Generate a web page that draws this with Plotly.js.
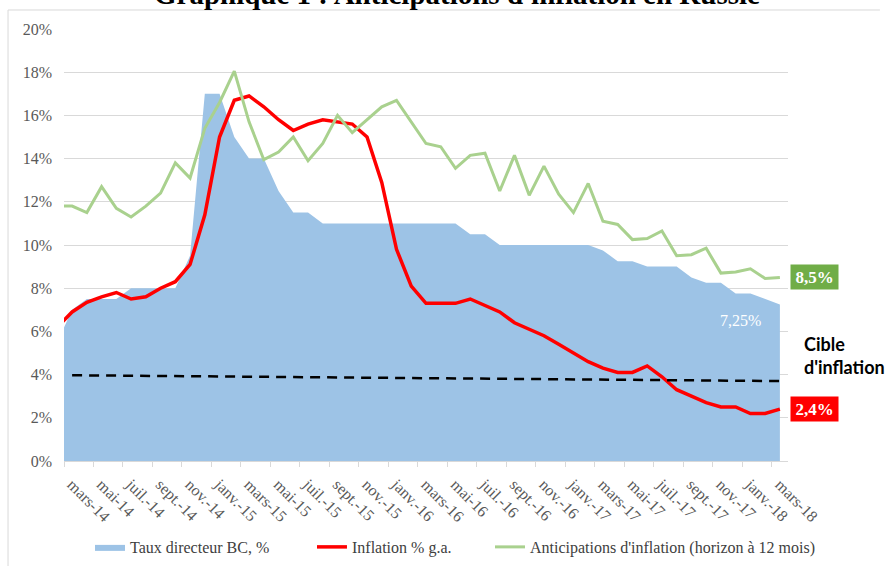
<!DOCTYPE html>
<html>
<head>
<meta charset="utf-8">
<script src="https://cdn.plot.ly/plotly-3.0.1.min.js"></script>
<style>html,body{margin:0;padding:0;background:#fff;}#chart{width:885px;height:566px;}</style>
</head>
<body>
<div id="chart"></div>
<script>
// Monthly categories (Feb 2014 – Mar 2018)
const months = [
  'févr.-14','mars-14','avr.-14','mai-14','juin-14','juil.-14','août-14','sept.-14','oct.-14','nov.-14','déc.-14',
  'janv.-15','févr.-15','mars-15','avr.-15','mai-15','juin-15','juil.-15','août-15','sept.-15','oct.-15','nov.-15','déc.-15',
  'janv.-16','févr.-16','mars-16','avr.-16','mai-16','juin-16','juil.-16','août-16','sept.-16','oct.-16','nov.-16','déc.-16',
  'janv.-17','févr.-17','mars-17','avr.-17','mai-17','juin-17','juil.-17','août-17','sept.-17','oct.-17','nov.-17','déc.-17',
  'janv.-18','févr.-18','mars-18'
];
// Taux directeur BC, %
const tauxDirecteur = [
  5.5, 7.0, 7.5, 7.5, 7.5, 8.0, 8.0, 8.0, 8.0, 9.5, 17.0,
  17.0, 15.0, 14.0, 14.0, 12.5, 11.5, 11.5, 11.0, 11.0, 11.0, 11.0, 11.0,
  11.0, 11.0, 11.0, 11.0, 11.0, 10.5, 10.5, 10.0, 10.0, 10.0, 10.0, 10.0,
  10.0, 10.0, 9.75, 9.25, 9.25, 9.0, 9.0, 9.0, 8.5, 8.25, 8.25, 7.75,
  7.75, 7.5, 7.25
];
// Inflation % g.a.
const inflation = [
  6.2, 6.9, 7.35, 7.6, 7.8, 7.5, 7.6, 8.0, 8.3, 9.1, 11.4,
  15.0, 16.7, 16.9, 16.4, 15.8, 15.3, 15.6, 15.8, 15.7, 15.6, 15.0, 12.9,
  9.8, 8.1, 7.3, 7.3, 7.3, 7.5, 7.2, 6.9, 6.4, 6.1, 5.8, 5.4,
  5.0, 4.6, 4.3, 4.1, 4.1, 4.4, 3.9, 3.3, 3.0, 2.7, 2.5, 2.5,
  2.2, 2.2, 2.4
];
// Anticipations d'inflation (horizon à 12 mois)
const anticipations = [
  11.8, 11.8, 11.5, 12.7, 11.7, 11.3, 11.8, 12.4, 13.8, 13.1, 15.4,
  16.6, 18.05, 15.7, 13.95, 14.3, 15.0, 13.9, 14.7, 16.0, 15.2, 15.8, 16.4,
  16.7, 15.7, 14.7, 14.55, 13.55, 14.15, 14.25, 12.5, 14.15, 12.3, 13.65, 12.35,
  11.5, 12.85, 11.1, 10.95, 10.25, 10.3, 10.65, 9.5, 9.55, 9.85, 8.7, 8.75,
  8.9, 8.45, 8.5
];
// Cible d'inflation (dashed line, start / end)
const cibleMonths = ['mars-14', 'mars-18'];
const cibleValues = [3.97, 3.70];
// Axis tick labels
const tickLabels = [
  'mars-14','mai-14','juil.-14','sept.-14','nov.-14','janv.-15','mars-15','mai-15','juil.-15','sept.-15','nov.-15',
  'janv.-16','mars-16','mai-16','juil.-16','sept.-16','nov.-16','janv.-17','mars-17','mai-17','juil.-17','sept.-17',
  'nov.-17','janv.-18','mars-18'
];
const yTicks = [0, 2, 4, 6, 8, 10, 12, 14, 16, 18, 20];
const tauxLabel = '7,25%';

const idx = m => months.indexOf(m) - 1;   // mars-14 -> 0
const xs = months.map(idx);
const tickvals = tickLabels.map(l => idx(l) - 0.55);
const fmt = v => String(v).replace('.', ',') + '%';

const serif = 'Liberation Serif, Times New Roman, serif';

const traces = [
  {
    x: xs, y: tauxDirecteur, type: 'scatter', mode: 'lines',
    name: 'Taux directeur BC, %', fill: 'tozeroy', fillcolor: '#9DC3E6',
    line: {width: 0, color: '#9DC3E6'}, legend: 'legend', hoverinfo: 'skip'
  },
  {
    x: xs, y: inflation, type: 'scatter', mode: 'lines',
    name: 'Inflation % g.a.', line: {width: 3.5, color: '#FF0000'}, legend: 'legend2'
  },
  {
    x: xs, y: anticipations, type: 'scatter', mode: 'lines',
    name: "Anticipations d'inflation (horizon à 12 mois)", line: {width: 3, color: '#A9D18E'}, legend: 'legend3'
  },
  {
    x: cibleMonths.map(idx), y: cibleValues, type: 'scatter', mode: 'lines',
    name: "Cible d'inflation", showlegend: false,
    line: {width: 2.5, color: '#000000', dash: '10px,7px'}
  }
];

const legendBase = {
  orientation: 'h', yanchor: 'middle', xanchor: 'left', yref: 'container', y: 0.0336,
  bgcolor: 'rgba(0,0,0,0)', font: {family: serif, size: 16, color: '#404040'}
};

const last = a => a[a.length - 1];

const layout = {
  width: 885, height: 566,
  margin: {l: 64, r: 97, t: 29, b: 105},
  paper_bgcolor: '#ffffff', plot_bgcolor: '#ffffff',
  font: {family: serif, color: '#595959'},
  showlegend: true,
  legend: Object.assign({}, legendBase, {x: 0.0359}),
  legend2: Object.assign({}, legendBase, {x: 0.3425}),
  legend3: Object.assign({}, legendBase, {x: 0.5884}),
  xaxis: {
    range: [-0.55, 48.55], tickmode: 'array', tickvals: tickvals, ticktext: tickLabels,
    tickangle: 45, tickfont: {family: serif, size: 16, color: '#595959'},
    ticks: 'outside', ticklen: 5, tickcolor: '#D9D9D9', tickwidth: 1,
    showline: true, linecolor: '#D9D9D9', linewidth: 1,
    showgrid: false, zeroline: false, automargin: false,
    ticklabelstandoff: 2, ticklabelshift: 8
  },
  yaxis: {
    range: [0, 20], tickmode: 'array', tickvals: yTicks, ticktext: yTicks.map(v => v + '%'),
    tickfont: {family: serif, size: 16, color: '#595959'},
    gridcolor: '#D9D9D9', gridwidth: 1, showline: false, zeroline: false, ticks: '',
    ticklabelstandoff: 11, automargin: false
  },
  annotations: [
    {
      text: "<b>Graphique 1 : Anticipations d'inflation en Russie</b>",
      xref: 'paper', yref: 'paper', x: 0.543, y: 1.081, xanchor: 'center', yanchor: 'middle',
      showarrow: false, font: {family: serif, size: 29, color: '#000000'}
    },
    {
      text: '<b>' + fmt(last(anticipations)) + '</b>',
      xref: 'paper', yref: 'y', x: 1.0366, y: last(anticipations), xanchor: 'center', yanchor: 'middle',
      showarrow: false, bgcolor: '#70AD47', width: 45, height: 22, borderpad: 1,
      font: {family: serif, size: 17, color: '#ffffff'}
    },
    {
      text: '<b>' + fmt(last(inflation)) + '</b>',
      xref: 'paper', yref: 'y', x: 1.0366, y: last(inflation), xanchor: 'center', yanchor: 'middle',
      showarrow: false, bgcolor: '#FF0000', width: 45, height: 22, borderpad: 1,
      font: {family: serif, size: 17, color: '#ffffff'}
    },
    {
      text: tauxLabel,
      xref: 'paper', yref: 'paper', x: 0.934, y: 0.326, xanchor: 'center', yanchor: 'middle',
      showarrow: false, font: {family: serif, size: 16, color: '#ffffff'}
    },
    {
      text: "<b>Cible<br>d'inflation</b>",
      xref: 'paper', yref: 'paper', x: 1.019, y: 0.245, xanchor: 'left', yanchor: 'middle', align: 'left',
      showarrow: false, font: {family: 'Lato, Liberation Sans, sans-serif', size: 18, color: '#000000'}
    }
  ],
  shapes: [
    {type: 'line', xref: 'paper', yref: 'paper', x0: -0.0773, x1: 1.127, y0: 1.044, y1: 1.044,
     line: {color: '#D9D9D9', width: 1}},
    {type: 'line', xref: 'paper', yref: 'paper', x0: -0.0773, x1: -0.0773, y0: 1.044, y1: -0.25,
     line: {color: '#D9D9D9', width: 1}}
  ]
};

Plotly.newPlot('chart', traces, layout, {displayModeBar: false, staticPlot: true});
</script>
</body>
</html>
